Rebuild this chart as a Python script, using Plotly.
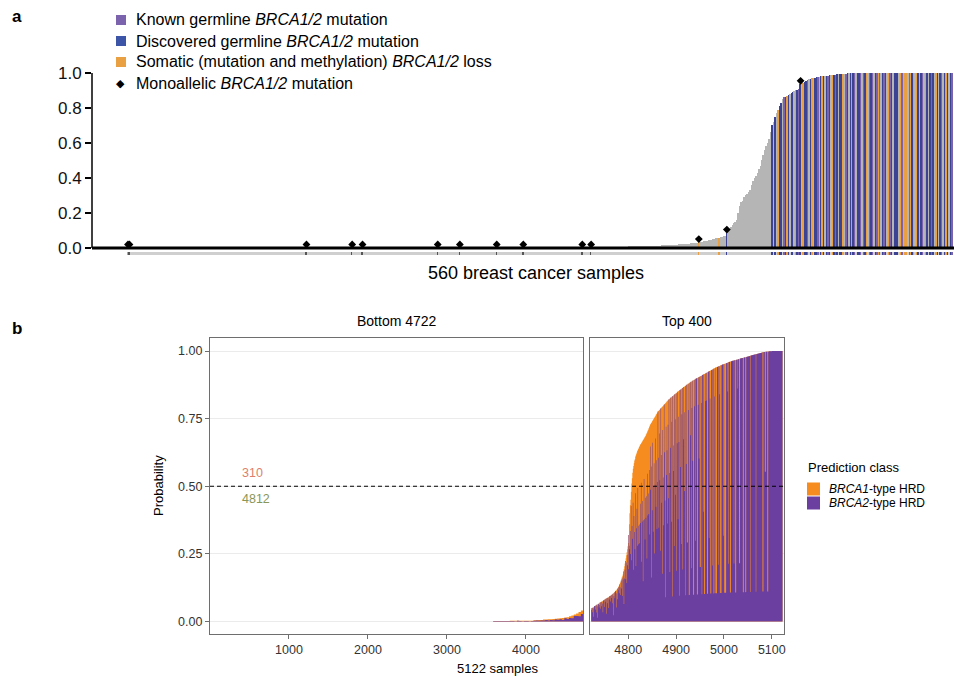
import plotly.graph_objects as go

# ---------------- Panel a data (560 breast cancer samples) ----------------
n_samples_a = 560
n_flat_a = 306  # samples 1..306: probability ~0
prob_a_tail = [  # samples 307..560
    0, 0, 0, 0, 0, 0, 0, 0, 0, 0, 0, 0, 0, 0, 0, 0, 0, 0, 0, 0,
    0, 0, 0, 0, 0, 0, 0.002, 0.003, 0.003, 0.004, 0.004, 0.005, 0.005, 0.005, 0.006, 0.006, 0.006, 0.007, 0.007, 0.007,
    0.008, 0.008, 0.008, 0.009, 0.009, 0.009, 0.010, 0.010, 0.010, 0.011, 0.011, 0.012, 0.012, 0.012, 0.013, 0.013, 0.014, 0.014, 0.015, 0.015,
    0.016, 0.016, 0.017, 0.017, 0.018, 0.018, 0.019, 0.019, 0.020, 0.021, 0.021, 0.022, 0.023, 0.024, 0.024, 0.025, 0.026, 0.027, 0.028, 0.029,
    0.030, 0.031, 0.033, 0.034, 0.036, 0.038, 0.040, 0.042, 0.044, 0.046, 0.048, 0.050, 0.052, 0.054, 0.056, 0.058, 0.061, 0.064, 0.067, 0.070,
    0.085, 0.095, 0.11, 0.12, 0.13, 0.14, 0.15, 0.16, 0.20, 0.24, 0.26, 0.27, 0.29, 0.30, 0.31, 0.32, 0.33, 0.36, 0.38, 0.40,
    0.41, 0.43, 0.45, 0.47, 0.50, 0.53, 0.56, 0.58, 0.60, 0.62, 0.66, 0.70, 0.72, 0.75, 0.77, 0.79, 0.81, 0.83, 0.85, 0.86,
    0.865, 0.87, 0.875, 0.88, 0.885, 0.89, 0.895, 0.90, 0.905, 0.91, 0.935, 0.94, 0.945, 0.95, 0.955, 0.96, 0.963, 0.966, 0.968, 0.970,
    0.972, 0.974, 0.976, 0.978, 0.980, 0.981, 0.982, 0.983, 0.984, 0.985, 0.986, 0.987, 0.988, 0.989, 0.990, 0.991, 0.992, 0.993, 0.994, 0.995,
    0.996, 0.996, 0.997, 0.997, 0.998, 0.998, 0.998, 0.999, 0.999, 0.999, 1.0, 1.0, 1.0, 1.0, 1.0, 1.0, 1.0, 1.0, 1.0, 1.0,
    1.0, 1.0, 1.0, 1.0, 1.0, 1.0, 1.0, 1.0, 1.0, 1.0, 1.0, 1.0, 1.0, 1.0, 1.0, 1.0, 1.0, 1.0, 1.0, 1.0,
    1.0, 1.0, 1.0, 1.0, 1.0, 1.0, 1.0, 1.0, 1.0, 1.0, 1.0, 1.0, 1.0, 1.0, 1.0, 1.0, 1.0, 1.0, 1.0, 1.0,
    1.0, 1.0, 1.0, 1.0, 1.0, 1.0, 1.0, 1.0, 1.0, 1.0, 1.0, 1.0, 1.0, 1.0,
]
# category codes: g = none, k = known germline, d = discovered germline, s = somatic loss
cat_a_special = {1: "s", 388: "s", 402: "s", 407: "d"}
cat_a_high_start = 438
cat_a_high = ("dgdgsddgkd" "sdgddgsdkd" "gsddkgdsgd" "dkgdsdgdkd" "gsdkdgddsg" "kdgdsdkgdd"
              "kgkdsgkdkg" "dkskgdkdgs" "kdgdddgskg" "ssgksdsgsd" "gdkgsdgdkd" "gsdgdkgdsd" "gdk")
mono_a = [1, 2, 122, 153, 160, 211, 226, 251, 269, 309, 315, 388, 407, 457]
yticks_a = [0.0, 0.2, 0.4, 0.6, 0.8, 1.0]

legend_a_labels = [
    "Known germline <i>BRCA1/2</i> mutation",
    "Discovered germline <i>BRCA1/2</i> mutation",
    "Somatic (mutation and methylation) <i>BRCA1/2</i> loss",
    "Monoallelic <i>BRCA1/2</i> mutation",
]

# ---------------- Panel b data (5122 samples) ----------------
left_x = [3600, 3630, 3660, 3690, 3720, 3750, 3780, 3810, 3840, 3870, 3900, 3930, 3960, 3990,
          4020, 4050, 4080, 4110, 4140, 4170, 4200, 4230, 4260, 4290, 4320, 4350, 4380, 4410,
          4440, 4470, 4500, 4530, 4560, 4590, 4620, 4650, 4680, 4710]
left_bin = 30
left_total = [0.002, 0.002, 0.002, 0.002, 0.002, 0.002, 0.002,
              0.003, 0.003, 0.003, 0.003, 0.003, 0.003, 0.003, 0.003, 0.003, 0.003,
              0.005, 0.005, 0.006, 0.006, 0.007, 0.007, 0.008, 0.008, 0.009, 0.010, 0.011,
              0.012, 0.013, 0.015, 0.016, 0.019, 0.022, 0.026, 0.030, 0.035, 0.041]
left_brca2_share9 = [9, 9, 9, 8, 9, 9, 7,
                     5, 6, 4, 7, 5, 3, 6, 5, 4, 6,
                     5, 7, 4, 6, 5, 7, 4, 6, 5, 7, 5, 6, 4, 7, 5, 6, 5, 7, 6, 5, 6]

right_first_sample = 4723
right_total = [
    0.048, 0.050, 0.051, 0.051, 0.053, 0.054, 0.056, 0.057, 0.057, 0.059, 0.060, 0.062, 0.063, 0.064, 0.064, 0.066, 0.067, 0.069, 0.070, 0.071,
    0.072, 0.073, 0.074, 0.075, 0.077, 0.078, 0.079, 0.080, 0.081, 0.082, 0.084, 0.085, 0.086, 0.087, 0.088, 0.089, 0.090, 0.092, 0.093, 0.094,
    0.095, 0.097, 0.098, 0.100, 0.101, 0.103, 0.105, 0.106, 0.108, 0.110, 0.112, 0.114, 0.116, 0.118, 0.121, 0.124, 0.127, 0.130, 0.134, 0.138,
    0.142, 0.147, 0.152, 0.157, 0.163, 0.169, 0.175, 0.185, 0.194, 0.204, 0.214, 0.224, 0.234, 0.245, 0.256, 0.267, 0.278, 0.290, 0.320, 0.360,
    0.400, 0.430, 0.450, 0.480, 0.510, 0.530, 0.550, 0.565, 0.575, 0.585, 0.595, 0.600, 0.610, 0.615, 0.620, 0.625, 0.630, 0.634, 0.638, 0.642,
    0.646, 0.650, 0.653, 0.656, 0.659, 0.662, 0.665, 0.668, 0.671, 0.674, 0.677, 0.680, 0.683, 0.686, 0.690, 0.694, 0.698, 0.702, 0.706, 0.710,
    0.715, 0.720, 0.724, 0.728, 0.731, 0.734, 0.737, 0.740, 0.743, 0.746, 0.749, 0.752, 0.755, 0.758, 0.761, 0.764, 0.767, 0.770, 0.773, 0.776,
    0.778, 0.780, 0.782, 0.784, 0.786, 0.788, 0.790, 0.792, 0.794, 0.796, 0.798, 0.800, 0.802, 0.804, 0.806, 0.808, 0.810, 0.812, 0.814, 0.816,
    0.818, 0.820, 0.822, 0.823, 0.825, 0.826, 0.828, 0.829, 0.831, 0.832, 0.834, 0.835, 0.837, 0.838, 0.840, 0.841, 0.843, 0.844, 0.846, 0.847,
    0.849, 0.850, 0.852, 0.853, 0.855, 0.856, 0.857, 0.859, 0.860, 0.862, 0.863, 0.864, 0.866, 0.867, 0.868, 0.870, 0.871, 0.872, 0.874, 0.875,
    0.876, 0.877, 0.879, 0.880, 0.881, 0.882, 0.884, 0.885, 0.886, 0.887, 0.888, 0.890, 0.891, 0.892, 0.893, 0.894, 0.895, 0.896, 0.897, 0.898,
    0.899, 0.900, 0.901, 0.902, 0.903, 0.904, 0.905, 0.906, 0.907, 0.908, 0.909, 0.910, 0.911, 0.912, 0.913, 0.914, 0.915, 0.916, 0.917, 0.918,
    0.919, 0.920, 0.921, 0.922, 0.923, 0.924, 0.925, 0.926, 0.927, 0.928, 0.929, 0.930, 0.931, 0.932, 0.933, 0.934, 0.935, 0.936, 0.937, 0.938,
    0.939, 0.940, 0.941, 0.941, 0.942, 0.943, 0.944, 0.944, 0.945, 0.946, 0.947, 0.947, 0.948, 0.949, 0.950, 0.950, 0.951, 0.952, 0.953, 0.953,
    0.954, 0.955, 0.955, 0.956, 0.957, 0.957, 0.958, 0.959, 0.959, 0.960, 0.961, 0.961, 0.962, 0.962, 0.963, 0.964, 0.964, 0.965, 0.965, 0.966,
    0.966, 0.967, 0.967, 0.968, 0.968, 0.969, 0.969, 0.970, 0.970, 0.971, 0.971, 0.972, 0.972, 0.973, 0.973, 0.974, 0.974, 0.975, 0.975, 0.976,
    0.976, 0.977, 0.977, 0.978, 0.978, 0.979, 0.979, 0.980, 0.980, 0.981, 0.981, 0.982, 0.982, 0.983, 0.983, 0.984, 0.984, 0.985, 0.985, 0.986,
    0.986, 0.987, 0.987, 0.988, 0.988, 0.989, 0.989, 0.990, 0.990, 0.991, 0.991, 0.992, 0.992, 0.993, 0.993, 0.994, 0.994, 0.995, 0.995, 0.995,
    0.996, 0.996, 0.996, 0.997, 0.997, 0.997, 0.997, 0.998, 0.998, 0.998, 0.998, 0.998, 0.999, 0.999, 0.999, 0.999, 0.999, 0.999, 1.0, 1.0,
    1.0, 1.0, 1.0, 1.0, 1.0, 1.0, 1.0, 1.0, 1.0, 1.0, 1.0, 1.0, 1.0, 1.0, 1.0, 1.0, 1.0, 1.0, 1.0, 1.0,
]
# share of each sample's probability assigned to BRCA2-type HRD, in ninths
right_brca2_share9 = [
    8, 9, 6, 9, 3, 8, 9, 9, 7, 9, 5, 9, 8, 2, 9, 9, 7, 8, 9, 6,
    9, 7, 9, 8, 4, 9, 9, 6, 9, 8, 9, 3, 9, 7, 9, 9, 5, 8, 9, 9,
    7, 9, 8, 9, 6, 9, 2, 8, 9, 7, 9, 9, 4, 8, 9, 6, 9, 8, 7, 9,
    8, 6, 9, 7, 9, 5, 8, 9, 3, 7, 8, 9, 6, 8, 5, 7, 8, 6, 9, 7,
    6, 7, 5, 8, 4, 6, 5, 7, 3, 6, 5, 4, 7, 3, 5, 6, 4, 7, 5, 4,
    5, 4, 6, 5, 7, 3, 5, 6, 2, 5, 7, 5, 4, 6, 5, 6, 3, 7, 5, 6,
    5, 7, 4, 8, 6, 2, 7, 5, 8, 4, 6, 7, 3, 6, 8, 5, 7, 4, 6, 9,
    7, 4, 8, 6, 3, 9, 5, 7, 2, 8, 6, 4, 9, 7, 5, 1, 8, 6, 7, 4,
    8, 5, 9, 6, 2, 7, 9, 4, 8, 1, 9, 6, 7, 3, 9, 8, 5, 9, 2, 7,
    9, 4, 8, 7, 1, 9, 6, 9, 3, 8, 9, 2, 7, 9, 5, 8, 1, 9, 6, 9,
    3, 3, 9, 8, 1, 1, 9, 7, 9, 2, 8, 9, 6, 1, 1, 9, 8, 3, 9, 9,
    9, 1, 1, 8, 9, 6, 9, 2, 2, 9, 8, 1, 9, 9, 4, 9, 1, 1, 8, 9,
    8, 9, 1, 1, 9, 9, 3, 9, 8, 1, 1, 9, 9, 2, 9, 1, 9, 8, 1, 1,
    9, 1, 1, 9, 9, 2, 9, 9, 8, 1, 1, 9, 1, 9, 9, 9, 3, 9, 1, 1,
    1, 1, 9, 9, 9, 8, 9, 2, 9, 9, 1, 1, 9, 9, 9, 9, 9, 9, 2, 9,
    9, 1, 1, 9, 9, 9, 8, 9, 9, 2, 2, 9, 9, 9, 9, 9, 9, 1, 1, 9,
    9, 9, 1, 1, 9, 9, 9, 9, 9, 9, 9, 9, 1, 9, 9, 9, 9, 9, 9, 9,
    9, 9, 9, 9, 1, 9, 9, 9, 9, 9, 9, 9, 9, 9, 9, 9, 9, 9, 1, 1,
    9, 9, 9, 5, 5, 9, 9, 9, 1, 1, 9, 9, 9, 9, 9, 9, 9, 9, 9, 9,
    9, 9, 9, 9, 9, 9, 9, 9, 9, 9, 9, 9, 9, 9, 9, 9, 9, 9, 9, 9,
]
yticks_b = [0.0, 0.25, 0.5, 0.75, 1.0]
xticks_left = [1000, 2000, 3000, 4000]
xticks_right = [4800, 4900, 5000, 5100]
count_above = "310"
count_below = "4812"

# ---------------- styling ----------------
FONT = "Liberation Sans, Arial, Helvetica, sans-serif"
COL_A = {"g": "#b5b5b5", "k": "#7b63ae", "d": "#3c4392", "s": "#e9a043"}
STRIP_GRAY = "#cfcfcf"
ORANGE = "#f68b1f"
PURPLE = "#6a3fa0"
FRAME = "#6e6e6e"
W, H = 954, 677


def px_x(v):
    return v / W


def px_y(v):
    return 1 - v / H


def step_xy(centers, heights, width):
    """Bar outlines (one step per bar) for a filled step trace."""
    xs = [c - width / 2 for c in centers] + [centers[-1] + width / 2]
    ys = list(heights) + [heights[-1]]
    return xs, ys


# assemble panel a arrays
x_a = list(range(1, n_samples_a + 1))
prob_a = [0.0] * n_flat_a + prob_a_tail
cat_a = []
for i in x_a:
    if i >= cat_a_high_start:
        cat_a.append(cat_a_high[i - cat_a_high_start])
    else:
        cat_a.append(cat_a_special.get(i, "g"))
bar_colors_a = [COL_A[c] for c in cat_a]
strip_colors_a = []
for i, c in zip(x_a, cat_a):
    if c != "g":
        strip_colors_a.append(COL_A[c])
    elif i in mono_a:
        strip_colors_a.append("#555555")
    else:
        strip_colors_a.append(STRIP_GRAY)

fig = go.Figure()

fig.add_trace(go.Bar(x=x_a, y=prob_a, marker=dict(color=bar_colors_a, line=dict(width=0)),
                     xaxis="x", yaxis="y", hoverinfo="skip"))
fig.add_trace(go.Bar(x=x_a, y=[0.018] * n_samples_a, base=-0.043,
                     marker=dict(color=strip_colors_a, line=dict(width=0)),
                     xaxis="x", yaxis="y", hoverinfo="skip"))
fig.add_trace(go.Scatter(x=mono_a, y=[prob_a[i - 1] + 0.02 for i in mono_a], mode="markers",
                         marker=dict(symbol="diamond", size=6, color="black"),
                         xaxis="x", yaxis="y", hoverinfo="skip"))

# panel b: each sample's bar = BRCA2 part (purple) below BRCA1 part (orange)
left_brca2 = [t * s / 9 for t, s in zip(left_total, left_brca2_share9)]
x_r = list(range(right_first_sample, right_first_sample + len(right_total)))
right_brca2 = [t * s / 9 for t, s in zip(right_total, right_brca2_share9)]
for xa, ya, centers, tot, b2, w in [("x2", "y2", left_x, left_total, left_brca2, left_bin),
                                    ("x3", "y3", x_r, right_total, right_brca2, 1)]:
    sx, sy = step_xy(centers, tot, w)
    fig.add_trace(go.Scatter(x=sx, y=sy, mode="lines", line=dict(shape="hv", width=0, color=ORANGE),
                             fill="tozeroy", fillcolor=ORANGE, xaxis=xa, yaxis=ya, hoverinfo="skip"))
    sx, sy = step_xy(centers, b2, w)
    fig.add_trace(go.Scatter(x=sx, y=sy, mode="lines", line=dict(shape="hv", width=0, color=PURPLE),
                             fill="tozeroy", fillcolor=PURPLE, xaxis=xa, yaxis=ya, hoverinfo="skip"))

axis_b_common = dict(showline=True, mirror=True, linecolor=FRAME, linewidth=1.3,
                     ticklen=4, tickcolor=FRAME, tickwidth=1,
                     tickfont=dict(family=FONT, size=12.5, color="#333333"),
                     zeroline=False, automargin=False)

fig.update_layout(
    width=W, height=H,
    margin=dict(l=0, r=0, t=0, b=0),
    paper_bgcolor="white", plot_bgcolor="white",
    showlegend=False, barmode="overlay", bargap=0,
    font=dict(family=FONT, color="black"),
    xaxis=dict(domain=[px_x(92), 1.0], range=[-23.4, 561.0], showticklabels=False, ticks="",
               showgrid=False, zeroline=False, showline=False, automargin=False),
    yaxis=dict(domain=[px_y(256.75), px_y(72.1)], range=[-0.05, 1.005], tickvals=yticks_a,
               ticktext=["%.1f" % v for v in yticks_a], ticks="outside", ticklen=6, tickwidth=1.5,
               tickcolor="black", tickfont=dict(family=FONT, size=17, color="#111111"),
               showgrid=False, zeroline=False, showline=False, automargin=False),
    xaxis2=dict(domain=[px_x(210), px_x(583)], range=[0, 4722], tickvals=xticks_left,
                ticks="outside", showgrid=False, anchor="y2", **axis_b_common),
    yaxis2=dict(domain=[px_y(634), px_y(338)], range=[-0.0462, 1.0481], tickvals=yticks_b,
                ticktext=["%.2f" % v for v in yticks_b], ticks="outside", showgrid=True,
                gridcolor="#ebebeb", gridwidth=1, anchor="x2", **axis_b_common),
    xaxis3=dict(domain=[px_x(590), px_x(784)], range=[4720, 5125.5], tickvals=xticks_right,
                ticks="outside", showgrid=False, anchor="y3", **axis_b_common),
    yaxis3=dict(domain=[px_y(634), px_y(338)], range=[-0.0462, 1.0481], tickvals=yticks_b,
                showticklabels=False, ticks="", showgrid=True, gridcolor="#ebebeb", gridwidth=1,
                anchor="x3", **axis_b_common),
)

shapes = [
    # panel a baseline and y axis line
    dict(type="line", xref="x domain", yref="y", x0=0, x1=1, y0=0, y1=0,
         line=dict(color="black", width=3)),
    dict(type="line", xref="x domain", yref="y", x0=0, x1=0, y0=0, y1=1,
         line=dict(color="black", width=1.5)),
    # panel b dashed 0.5 lines
    dict(type="line", xref="x2 domain", yref="y2", x0=0, x1=1, y0=0.5, y1=0.5,
         line=dict(color="black", width=1, dash="4px,3px")),
    dict(type="line", xref="x3 domain", yref="y3", x0=0, x1=1, y0=0.5, y1=0.5,
         line=dict(color="black", width=1, dash="4px,3px")),
]
annotations = [
    dict(text="<b>a</b>", x=px_x(10), y=px_y(17), xref="paper", yref="paper", xanchor="left",
         yanchor="middle", showarrow=False, font=dict(family=FONT, size=17)),
    dict(text="<b>b</b>", x=px_x(10), y=px_y(328), xref="paper", yref="paper", xanchor="left",
         yanchor="middle", showarrow=False, font=dict(family=FONT, size=17)),
    dict(text="560 breast cancer samples", x=px_x(536), y=px_y(273), xref="paper", yref="paper",
         xanchor="center", yanchor="middle", showarrow=False, font=dict(family=FONT, size=18)),
    dict(text="Bottom 4722", x=px_x(396.5), y=px_y(321), xref="paper", yref="paper",
         xanchor="center", yanchor="middle", showarrow=False, font=dict(family=FONT, size=14)),
    dict(text="Top 400", x=px_x(687), y=px_y(321), xref="paper", yref="paper",
         xanchor="center", yanchor="middle", showarrow=False, font=dict(family=FONT, size=14)),
    dict(text="Probability", x=px_x(158), y=px_y(486), xref="paper", yref="paper", textangle=-90,
         xanchor="center", yanchor="middle", showarrow=False, font=dict(family=FONT, size=13)),
    dict(text="5122 samples", x=px_x(497), y=px_y(668), xref="paper", yref="paper",
         xanchor="center", yanchor="middle", showarrow=False, font=dict(family=FONT, size=13)),
    dict(text=count_above, x=380, y=0.548, xref="x2", yref="y2", xanchor="left", yanchor="middle",
         showarrow=False, font=dict(family=FONT, size=12.5, color="#de7f6b")),
    dict(text=count_below, x=380, y=0.452, xref="x2", yref="y2", xanchor="left", yanchor="middle",
         showarrow=False, font=dict(family=FONT, size=12.5, color="#8a9656")),
    dict(text="Prediction class", x=px_x(806), y=px_y(468), xref="paper", yref="paper",
         xanchor="left", yanchor="middle", showarrow=False, font=dict(family=FONT, size=13)),
    dict(text="<i>BRCA1</i>-type HRD", x=px_x(827), y=px_y(489), xref="paper", yref="paper",
         xanchor="left", yanchor="middle", showarrow=False, font=dict(family=FONT, size=12)),
    dict(text="<i>BRCA2</i>-type HRD", x=px_x(827), y=px_y(503), xref="paper", yref="paper",
         xanchor="left", yanchor="middle", showarrow=False, font=dict(family=FONT, size=12)),
]
# panel b legend keys
shapes.append(dict(type="rect", xref="paper", yref="paper", x0=px_x(807), x1=px_x(820),
                   y0=px_y(495.5), y1=px_y(482.5), fillcolor=ORANGE, line=dict(width=0)))
shapes.append(dict(type="rect", xref="paper", yref="paper", x0=px_x(807), x1=px_x(820),
                   y0=px_y(509.5), y1=px_y(496.5), fillcolor=PURPLE, line=dict(width=0)))
# panel a legend
legend_a_rows = [20, 41, 62, 83]
legend_a_cols = [COL_A["k"], "#3d55a6", COL_A["s"]]
for row_y, label in zip(legend_a_rows, legend_a_labels):
    annotations.append(dict(text=label, x=px_x(134), y=px_y(row_y), xref="paper", yref="paper",
                            xanchor="left", yanchor="middle", showarrow=False,
                            font=dict(family=FONT, size=16)))
for row_y, col in zip(legend_a_rows[:3], legend_a_cols):
    shapes.append(dict(type="rect", xref="paper", yref="paper", x0=px_x(116), x1=px_x(126),
                       y0=px_y(row_y + 5), y1=px_y(row_y - 5), fillcolor=col, line=dict(width=0)))
annotations.append(dict(text="\u25c6", x=px_x(121), y=px_y(legend_a_rows[3]), xref="paper",
                        yref="paper", xanchor="center", yanchor="middle", showarrow=False,
                        font=dict(family="DejaVu Sans", size=11, color="black")))

fig.update_layout(shapes=shapes, annotations=annotations)
fig.write_html("out.html", config={"displayModeBar": False},
               post_script="document.body.style.margin='0px';document.body.style.overflow='hidden';")
